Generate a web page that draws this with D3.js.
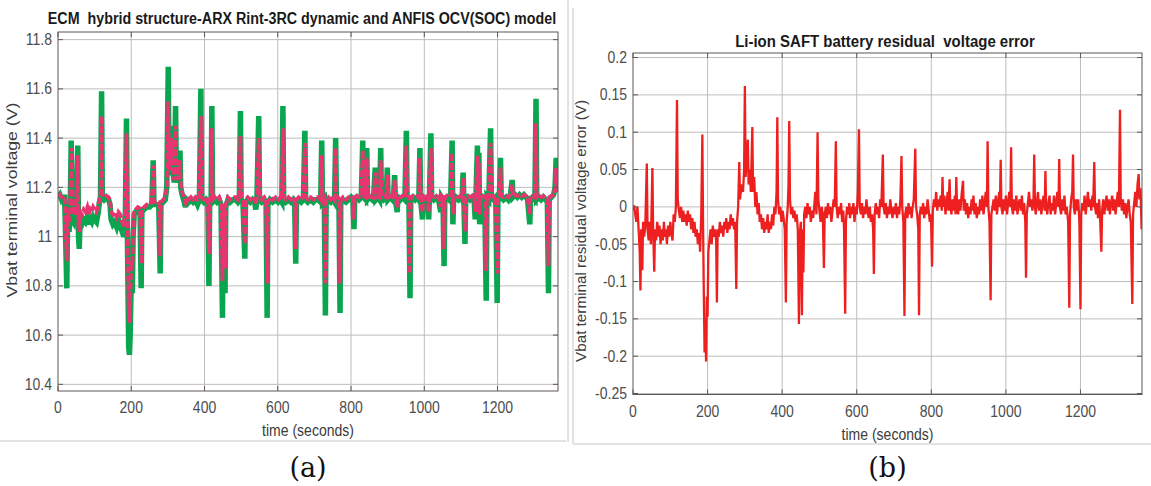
<!DOCTYPE html>
<html lang="en">
<head>
<meta charset="UTF-8">
<title>ECM hybrid model and residual voltage error</title>
<script src="https://d3js.org/d3.v7.min.js"></script>
<style>
  body { margin: 0; background: #fff; }
  svg { display: block; font-family: "Liberation Sans", Arial, sans-serif; }
  .tick-label { fill: #4d4d4d; font-size: 14px; }
  .axis-label { fill: #3c3c3c; font-size: 14px; }
  .title { fill: #1a1a1a; font-weight: bold; white-space: pre; }
  .grid { stroke: #bdbdbd; stroke-width: 1; }
  .box { fill: none; stroke: #5f5757; stroke-width: 1; }
  .tick { stroke: #5f5757; stroke-width: 1; }
  .caption { font-family: "DejaVu Serif", serif; font-size: 27px; fill: #111; }
  .frame { stroke: #e2e2e2; stroke-width: 2; }
</style>
</head>
<body>
<svg id="fig" width="1151" height="486"></svg>
<script>
// ---- data ----
const xTicks = [0, 200, 400, 600, 800, 1000, 1200];
const yTicksA = [10.4, 10.6, 10.8, 11, 11.2, 11.4, 11.6, 11.8];
const yTicksB = [-0.25, -0.2, -0.15, -0.1, -0.05, 0, 0.05, 0.1, 0.15, 0.2];

const titleA = "ECM  hybrid structure-ARX Rint-3RC dynamic and ANFIS OCV(SOC) model";
const titleB = "Li-ion SAFT battery residual  voltage error";
const yLabelA = "Vbat terminal voltage (V)";
const yLabelB = "Vbat terminal residual voltage error (V)";
const xLabel = "time (seconds)";

// [time s, measured V (green), model V (pink dashed)]
const ecmRows = [
  [0,11.16,11.165],[5,11.17,11.17],[10,11.15,11.16],[15,11.16,11.165],[18,11.16,11.16],
  [20,11.05,11.08],[24,10.79,10.90],[26,11.05,11.09],[30,11.02,11.06],[33,11.08,11.11],
  [36,11.39,11.36],[38,11.07,11.10],[42,11.06,11.10],[45,11.10,11.12],[48,11.06,11.09],
  [54,11.37,11.33],[56,11.00,11.05],[58,10.95,11.02],[60,11.06,11.10],[65,11.05,11.09],
  [70,11.07,11.11],[75,11.06,11.10],[80,11.08,11.12],[84,11.05,11.09],[88,11.07,11.11],
  [92,11.06,11.10],[96,11.08,11.12],[100,11.07,11.11],[105,11.06,11.10],[110,11.10,11.13],
  [113,11.14,11.15],[116,11.16,11.16],[119,11.59,11.49],[121,11.16,11.17],[126,11.15,11.16],
  [132,11.16,11.165],[138,11.15,11.16],[142,11.13,11.15],[145,11.07,11.10],[150,11.05,11.09],
  [155,11.06,11.10],[160,11.04,11.08],[165,11.07,11.10],[170,11.05,11.09],[175,11.02,11.06],
  [180,11.00,11.04],[184,11.10,11.12],[187,11.48,11.42],[189,11.05,11.08],[191,10.80,10.90],
  [193,10.55,10.70],[195,10.52,10.65],[197,10.60,10.75],[199,10.75,10.86],[201,10.85,10.90],
  [203,10.77,10.88],[205,11.00,11.04],[208,11.09,11.10],[212,11.10,11.11],[218,11.11,11.12],
  [224,11.10,11.115],[227,10.79,10.89],[229,11.10,11.11],[235,11.11,11.12],[242,11.12,11.13],
  [250,11.12,11.13],[256,11.13,11.14],[260,11.31,11.29],[262,11.13,11.14],[268,11.13,11.14],
  [275,11.13,11.14],[279,10.85,10.92],[281,11.13,11.14],[287,11.14,11.15],[293,11.15,11.16],
  [297,11.20,11.20],[301,11.69,11.55],[303,11.25,11.27],[307,11.30,11.30],[311,11.45,11.40],
  [313,11.28,11.28],[317,11.22,11.23],[321,11.53,11.45],[323,11.25,11.26],[327,11.22,11.23],
  [333,11.35,11.31],[335,11.20,11.21],[339,11.17,11.18],[343,11.15,11.16],[348,11.12,11.14],
  [351,11.15,11.16],[357,11.14,11.15],[363,11.15,11.16],[369,11.14,11.15],[375,11.15,11.16],
  [381,11.13,11.15],[386,11.15,11.16],[390,11.60,11.49],[392,11.15,11.16],[398,11.14,11.15],
  [404,11.15,11.16],[409,11.14,11.15],[412,10.80,10.93],[414,11.13,11.14],[418,11.15,11.16],
  [420,11.53,11.44],[422,11.14,11.15],[428,11.15,11.16],[434,11.14,11.15],[440,11.15,11.16],
  [445,11.13,11.14],[449,10.67,10.82],[451,11.12,11.13],[454,11.05,11.08],[456,10.77,10.87],
  [458,11.12,11.13],[464,11.15,11.16],[470,11.14,11.15],[477,11.15,11.16],[485,11.15,11.16],
  [491,11.14,11.15],[495,11.15,11.16],[498,11.51,11.41],[500,11.15,11.16],[505,11.14,11.15],
  [510,10.91,10.97],[512,11.14,11.15],[518,11.15,11.16],[525,11.14,11.15],[531,11.15,11.16],
  [537,11.14,11.15],[540,11.11,11.13],[543,11.15,11.16],[548,11.49,11.40],[550,11.15,11.16],
  [556,11.14,11.15],[563,11.15,11.16],[568,11.14,11.15],[571,10.67,10.81],[573,11.13,11.14],
  [579,11.15,11.16],[586,11.14,11.15],[594,11.15,11.16],[601,11.14,11.15],[607,11.15,11.16],
  [611,11.14,11.15],[614,11.53,11.44],[616,11.15,11.16],[622,11.14,11.15],[629,11.15,11.16],
  [636,11.14,11.15],[642,11.15,11.16],[646,11.14,11.15],[649,10.89,10.95],[651,11.14,11.15],
  [657,11.15,11.16],[664,11.14,11.15],[670,11.15,11.16],[674,11.43,11.38],[676,11.15,11.16],
  [682,11.14,11.15],[690,11.15,11.16],[697,11.14,11.15],[703,11.15,11.16],[710,11.15,11.16],
  [717,11.14,11.15],[720,11.39,11.33],[722,11.14,11.15],[727,11.15,11.16],[730,10.68,10.81],
  [732,11.14,11.15],[738,11.15,11.16],[745,11.14,11.15],[751,11.15,11.16],[755,11.14,11.15],
  [758,11.40,11.36],[760,11.15,11.16],[764,11.15,11.16],[767,11.14,11.15],[770,10.69,10.81],
  [772,11.14,11.15],[778,11.15,11.16],[786,11.14,11.15],[793,11.15,11.16],[800,11.16,11.165],
  [805,11.15,11.16],[808,11.03,11.07],[810,11.15,11.16],[816,11.16,11.165],[822,11.15,11.16],
  [828,11.16,11.165],[832,11.39,11.35],[834,11.16,11.165],[840,11.15,11.16],[843,11.36,11.32],
  [845,11.15,11.16],[851,11.16,11.165],[858,11.15,11.16],[862,11.17,11.17],[866,11.28,11.26],
  [868,11.15,11.16],[874,11.16,11.165],[878,11.15,11.16],[881,11.36,11.31],[883,11.16,11.165],
  [889,11.15,11.16],[896,11.16,11.165],[899,11.28,11.25],[901,11.15,11.16],[907,11.16,11.165],
  [913,11.15,11.16],[916,11.16,11.165],[919,11.25,11.23],[921,11.15,11.16],[926,11.10,11.12],
  [928,11.16,11.165],[935,11.15,11.16],[941,11.16,11.165],[947,11.15,11.16],[951,11.43,11.37],
  [953,11.16,11.165],[958,11.15,11.16],[961,10.75,10.85],[963,11.15,11.16],[969,11.16,11.165],
  [975,11.15,11.16],[981,11.16,11.165],[985,11.15,11.16],[988,11.36,11.32],[990,11.15,11.16],
  [995,11.07,11.10],[997,11.16,11.165],[1003,11.15,11.16],[1009,11.16,11.165],[1012,11.07,11.10],
  [1014,11.16,11.165],[1018,11.42,11.36],[1020,11.16,11.165],[1026,11.15,11.16],[1033,11.16,11.165],
  [1039,11.15,11.16],[1045,11.10,11.12],[1047,11.16,11.165],[1051,11.15,11.16],[1054,10.88,10.95],
  [1056,11.15,11.16],[1062,11.16,11.165],[1068,11.15,11.16],[1072,11.16,11.165],[1076,11.39,11.34],
  [1078,11.05,11.09],[1080,11.15,11.16],[1086,11.16,11.165],[1093,11.15,11.16],[1099,11.16,11.165],
  [1103,11.15,11.16],[1106,11.26,11.24],[1108,11.15,11.16],[1111,10.97,11.02],[1113,11.15,11.16],
  [1119,11.16,11.165],[1125,11.15,11.16],[1131,11.16,11.165],[1136,11.15,11.16],[1139,11.07,11.10],
  [1141,11.16,11.165],[1145,11.37,11.33],[1147,11.15,11.16],[1149,11.34,11.30],[1151,11.05,11.09],
  [1153,11.15,11.16],[1159,11.16,11.165],[1165,11.15,11.16],[1169,10.74,10.86],[1171,11.16,11.165],
  [1176,11.15,11.16],[1181,11.44,11.38],[1183,11.16,11.165],[1189,11.15,11.16],[1195,11.16,11.165],
  [1199,10.73,10.85],[1201,11.15,11.16],[1205,11.16,11.165],[1208,11.32,11.28],[1210,11.16,11.165],
  [1216,11.15,11.16],[1223,11.16,11.165],[1229,11.15,11.16],[1235,11.17,11.17],[1240,11.23,11.21],
  [1242,11.16,11.165],[1248,11.17,11.17],[1254,11.16,11.165],[1260,11.17,11.17],[1266,11.16,11.165],
  [1272,11.17,11.17],[1278,11.16,11.165],[1282,11.15,11.16],[1288,11.05,11.09],[1290,11.15,11.16],
  [1296,11.16,11.165],[1302,11.15,11.16],[1305,11.56,11.46],[1307,11.15,11.16],[1313,11.16,11.165],
  [1319,11.15,11.16],[1325,11.16,11.165],[1331,11.15,11.16],[1336,11.14,11.15],[1339,10.77,10.88],
  [1341,11.15,11.16],[1347,11.16,11.165],[1353,11.17,11.17],[1357,11.20,11.20],[1360,11.32,11.28],
  [1362,11.18,11.18],[1364,11.28,11.26],[1366,11.19,11.19]
];

// [time s, residual V]
const residualPts = [
  [0,-0.005],[3,0.002],[6,-0.01],[9,-0.02],[12,0.0],[15,-0.03],[18,-0.06],[20,-0.112],[22,-0.03],
  [25,-0.085],[27,-0.02],[30,-0.04],[33,-0.025],[37,0.058],[39,-0.03],[42,-0.045],[45,-0.02],
  [48,-0.05],[52,0.052],[54,-0.03],[57,-0.087],[59,-0.03],[62,-0.045],[65,-0.02],[68,-0.04],
  [71,-0.025],[74,-0.05],[77,-0.03],[80,-0.045],[83,-0.02],[85,-0.04],[88,-0.03],[91,-0.05],
  [94,-0.025],[97,-0.04],[100,-0.02],[103,-0.035],[106,-0.045],[109,-0.01],[112,-0.02],[115,0.0],
  [118,0.143],[120,0.01],[123,-0.005],[126,-0.015],[129,0.0],[132,-0.02],[135,-0.005],[138,-0.02],
  [141,-0.01],[144,-0.025],[147,-0.005],[150,-0.02],[153,-0.01],[156,-0.03],[159,-0.015],
  [162,-0.035],[165,-0.02],[168,-0.04],[171,-0.03],[174,-0.05],[177,-0.035],[180,-0.06],
  [183,-0.01],[186,0.097],[188,-0.03],[190,-0.12],[192,-0.195],[194,-0.15],[196,-0.207],
  [198,-0.12],[200,-0.147],[202,-0.06],[205,-0.045],[208,-0.03],[211,-0.05],[214,-0.025],
  [217,-0.04],[220,-0.03],[223,-0.045],[225,-0.128],[227,-0.03],[230,-0.04],[233,-0.02],
  [236,-0.035],[239,-0.025],[242,-0.04],[245,-0.02],[248,-0.03],[250,-0.015],[253,-0.035],
  [256,-0.02],[259,-0.03],[262,-0.01],[265,-0.025],[268,-0.015],[271,-0.03],[274,-0.02],
  [277,-0.11],[279,-0.02],[282,0.0],[285,0.06],[287,0.01],[291,0.03],[295,0.02],[298,0.05],
  [300,0.162],[302,0.04],[305,0.06],[308,0.09],[310,0.03],[313,0.05],[316,0.02],[320,0.107],
  [322,0.02],[325,0.04],[328,0.0],[331,0.02],[334,-0.01],[337,0.005],[340,-0.02],[343,-0.01],
  [346,-0.03],[349,-0.015],[352,-0.035],[355,-0.02],[358,-0.03],[361,-0.01],[364,-0.035],
  [367,-0.02],[370,-0.03],[373,-0.01],[376,-0.025],[379,0.0],[382,-0.01],[385,0.02],[387,0.12],
  [389,0.01],[392,-0.01],[395,0.0],[398,-0.02],[401,-0.005],[404,-0.015],[407,-0.03],[410,-0.128],
  [412,-0.02],[415,0.0],[417,0.03],[419,0.115],[421,0.01],[424,-0.01],[427,0.0],[430,-0.015],
  [433,-0.005],[436,-0.02],[439,-0.01],[442,-0.03],[445,-0.157],[447,-0.04],[450,-0.02],
  [453,-0.145],[455,-0.03],[457,-0.088],[459,-0.01],[462,0.0],[465,-0.015],[468,0.005],
  [471,-0.01],[474,0.0],[477,-0.02],[480,-0.005],[483,-0.015],[486,0.0],[489,0.02],[492,-0.01],
  [495,0.1],[497,0.01],[500,-0.005],[503,-0.02],[506,0.0],[509,-0.01],[512,-0.082],[514,-0.01],
  [517,0.0],[520,-0.015],[523,0.005],[526,-0.01],[529,0.0],[532,-0.02],[535,-0.005],[538,0.01],
  [541,0.0],[544,0.088],[546,0.0],[549,-0.015],[552,0.0],[555,-0.01],[558,0.005],[561,-0.02],
  [564,-0.005],[566,-0.03],[569,-0.143],[571,-0.02],[574,0.0],[577,-0.01],[580,0.005],
  [582,-0.015],[585,0.0],[588,-0.01],[591,0.005],[594,-0.02],[597,0.0],[600,-0.01],[603,0.02],
  [606,0.104],[608,0.0],[611,-0.01],[614,0.005],[617,-0.015],[620,0.0],[623,-0.01],[626,0.01],
  [629,-0.005],[632,-0.015],[635,0.0],[638,-0.02],[641,-0.01],[644,-0.03],[646,-0.09],[648,-0.01],
  [651,0.005],[654,-0.01],[657,0.0],[660,-0.015],[663,0.01],[666,0.0],[670,0.07],[672,0.0],
  [675,-0.01],[678,0.005],[681,-0.015],[684,0.0],[687,-0.01],[690,0.01],[693,-0.005],[696,-0.015],
  [699,0.0],[702,-0.01],[705,0.005],[708,-0.015],[711,0.0],[714,-0.01],[717,0.01],[720,0.068],
  [722,0.0],[725,-0.02],[728,-0.146],[730,-0.01],[733,0.0],[736,-0.015],[739,0.005],[742,-0.01],
  [745,0.0],[747,-0.015],[750,0.0],[753,0.01],[757,0.078],[759,0.0],[762,-0.01],[765,-0.03],
  [767,-0.145],[769,-0.01],[772,0.0],[775,-0.01],[778,0.005],[781,-0.015],[784,0.0],[787,-0.01],
  [790,0.01],[793,-0.005],[796,-0.02],[799,-0.01],[802,-0.08],[804,-0.005],[807,0.01],[810,0.0],
  [813,0.02],[816,-0.005],[819,0.01],[822,0.0],[825,0.015],[828,-0.005],[830,0.04],[832,0.0],
  [835,0.015],[838,-0.01],[841,0.005],[844,0.02],[846,-0.005],[849,0.037],[851,0.0],[854,-0.01],
  [857,0.01],[860,-0.005],[863,0.015],[865,-0.01],[867,0.04],[869,0.0],[872,-0.01],[875,0.01],
  [878,-0.005],[881,0.015],[885,0.035],[887,-0.005],[890,0.01],[893,-0.01],[896,0.005],
  [899,-0.015],[902,0.0],[905,-0.01],[908,0.01],[911,-0.005],[913,0.015],[916,-0.01],[919,0.005],
  [922,-0.015],[925,0.0],[928,-0.01],[931,0.01],[934,-0.005],[937,0.015],[940,-0.01],[943,0.005],
  [946,0.02],[949,0.0],[951,0.088],[953,0.0],[956,-0.02],[959,-0.125],[961,-0.01],[964,0.0],
  [967,0.01],[970,-0.005],[973,0.015],[976,-0.01],[979,0.005],[982,0.02],[984,0.0],[986,0.063],
  [988,0.0],[991,-0.01],[994,0.01],[997,-0.005],[1000,0.015],[1003,-0.01],[1006,0.005],
  [1009,0.02],[1012,0.0],[1014,0.08],[1016,0.0],[1019,-0.01],[1022,0.01],[1025,-0.005],
  [1028,0.015],[1031,-0.01],[1034,0.005],[1037,0.01],[1040,-0.005],[1043,0.015],[1046,-0.01],
  [1049,0.005],[1052,-0.02],[1054,-0.095],[1056,-0.01],[1059,0.005],[1062,0.02],[1065,0.0],
  [1068,0.01],[1071,-0.005],[1074,0.01],[1076,0.07],[1078,0.0],[1080,-0.01],[1083,0.005],
  [1086,0.02],[1089,-0.005],[1092,0.01],[1095,-0.01],[1098,0.005],[1101,0.015],[1104,-0.005],
  [1106,0.048],[1108,0.0],[1111,-0.01],[1114,0.005],[1117,0.015],[1120,-0.01],[1123,0.005],
  [1126,-0.005],[1129,0.015],[1132,-0.01],[1135,0.005],[1138,0.02],[1141,0.0],[1143,0.064],
  [1145,0.0],[1148,-0.01],[1151,0.01],[1154,-0.005],[1157,0.015],[1160,-0.01],[1163,0.0],
  [1167,-0.02],[1170,-0.135],[1172,-0.01],[1175,0.01],[1178,0.02],[1180,0.07],[1182,0.0],
  [1185,-0.01],[1188,0.01],[1191,-0.005],[1194,0.01],[1197,-0.02],[1200,-0.137],[1202,-0.01],
  [1205,0.005],[1208,-0.005],[1211,0.015],[1214,-0.01],[1217,0.005],[1220,0.02],[1223,0.0],
  [1226,0.01],[1229,-0.005],[1232,0.015],[1234,0.0],[1237,0.06],[1239,0.0],[1242,-0.01],
  [1245,0.005],[1247,-0.015],[1250,0.01],[1253,-0.02],[1256,-0.06],[1258,-0.005],[1261,0.01],
  [1264,-0.01],[1267,0.005],[1270,0.015],[1273,-0.005],[1276,0.01],[1279,-0.01],[1282,0.005],
  [1285,0.015],[1288,-0.005],[1291,0.01],[1294,-0.01],[1297,0.005],[1300,0.02],[1303,0.0],
  [1306,0.13],[1308,0.01],[1311,-0.005],[1314,0.01],[1317,-0.01],[1320,0.005],[1323,-0.015],
  [1326,0.0],[1329,0.01],[1332,-0.01],[1335,-0.02],[1339,-0.13],[1341,-0.01],[1344,0.005],
  [1347,0.02],[1350,0.0],[1353,0.03],[1356,0.044],[1358,0.01],[1361,0.025],[1364,-0.03]
];

const svg = d3.select("#fig");
const STRETCH = 1.12; // the source figure is a little taller than wide, text looks stretched

// light frames around the two sub-figures
svg.append("line").attr("class", "frame").attr("x1", 0).attr("x2", 566).attr("y1", 441).attr("y2", 441);
svg.append("line").attr("class", "frame").attr("x1", 568).attr("x2", 568).attr("y1", 0).attr("y2", 442);
svg.append("line").attr("class", "frame").attr("x1", 573).attr("x2", 573).attr("y1", 8).attr("y2", 444);
svg.append("line").attr("class", "frame").attr("x1", 573).attr("x2", 1151).attr("y1", 444).attr("y2", 444);

function drawPanel(o) {
  const x = d3.scaleLinear().domain([0, 1365]).range([o.left, o.right]);
  const y = d3.scaleLinear().domain(o.yDomain).range([o.bottom, o.top]);
  const g = svg.append("g");

  // grid
  g.selectAll(null).data(xTicks.filter(d => d > 0)).join("line").attr("class", "grid")
    .attr("x1", d => x(d)).attr("x2", d => x(d)).attr("y1", o.top).attr("y2", o.bottom);
  g.selectAll(null).data(o.yTicks).join("line").attr("class", "grid")
    .attr("x1", o.left).attr("x2", o.right).attr("y1", d => y(d)).attr("y2", d => y(d));

  // data lines
  g.append("clipPath").attr("id", o.id + "-clip").append("rect")
    .attr("x", o.left).attr("y", o.top).attr("width", o.right - o.left).attr("height", o.bottom - o.top);
  const plot = g.append("g").attr("clip-path", `url(#${o.id}-clip)`);
  o.series.forEach(s => {
    plot.append("path").datum(s.data)
      .attr("fill", "none").attr("stroke", s.color).attr("stroke-width", s.width)
      .attr("stroke-dasharray", s.dash || null).attr("stroke-linejoin", "miter")
      .attr("d", d3.line().x(d => x(d[0])).y(d => y(d[s.col])));
  });

  // inward ticks on all four sides
  xTicks.forEach(d => {
    g.append("line").attr("class", "tick").attr("x1", x(d)).attr("x2", x(d)).attr("y1", o.bottom).attr("y2", o.bottom - 5);
    g.append("line").attr("class", "tick").attr("x1", x(d)).attr("x2", x(d)).attr("y1", o.top).attr("y2", o.top + 5);
  });
  o.yTicks.forEach(d => {
    g.append("line").attr("class", "tick").attr("x1", o.left).attr("x2", o.left + 5).attr("y1", y(d)).attr("y2", y(d));
    g.append("line").attr("class", "tick").attr("x1", o.right).attr("x2", o.right - 5).attr("y1", y(d)).attr("y2", y(d));
  });
  g.append("rect").attr("class", "box")
    .attr("x", o.left).attr("y", o.top).attr("width", o.right - o.left).attr("height", o.bottom - o.top);

  // tick labels (slightly stretched vertically like the source)
  g.selectAll(null).data(xTicks).join("text").attr("class", "tick-label")
    .attr("transform", d => `translate(${x(d)},${o.bottom + 22}) scale(1,${STRETCH})`)
    .attr("text-anchor", "middle").text(d => String(d));
  g.selectAll(null).data(o.yTicks).join("text").attr("class", "tick-label")
    .attr("transform", d => `translate(${o.left - 6},${y(d) + 5.5}) scale(1,${STRETCH})`)
    .attr("text-anchor", "end").text(d => String(d));

  // labels and title
  const cx = (o.left + o.right) / 2;
  g.append("text").attr("class", "axis-label")
    .attr("transform", `translate(${cx},${o.bottom + 45}) scale(1,${STRETCH})`)
    .attr("text-anchor", "middle").text(xLabel);
  g.append("text").attr("class", "axis-label").attr("text-anchor", "middle")
    .attr("transform", `translate(${o.yLabelX},${o.yLabelY}) rotate(-90)`)
    .attr("textLength", o.yLabelLen).attr("lengthAdjust", "spacingAndGlyphs").text(o.yLabel);
  g.append("text").attr("class", "title")
    .attr("transform", `translate(${o.titleX},${o.titleY}) scale(1,${STRETCH})`)
    .attr("text-anchor", "middle").style("font-size", o.titleSize + "px").text(o.title);
  svg.append("text").attr("class", "caption").attr("x", cx).attr("y", 477)
    .attr("text-anchor", "middle").text(o.caption);
}

drawPanel({
  id: "a", left: 58, right: 558, top: 32, bottom: 391,
  yDomain: [10.373, 11.831], yTicks: yTicksA,
  title: titleA, titleX: 302, titleY: 24, titleSize: 14.3,
  yLabel: yLabelA, yLabelX: 17, yLabelY: 200, yLabelLen: 195, caption: "(a)",
  series: [
    { data: ecmRows, col: 1, color: "#09a54f", width: 5.5 },
    { data: ecmRows, col: 2, color: "#e83470", width: 3.8, dash: "7,2" }
  ]
});

drawPanel({
  id: "b", left: 633, right: 1142, top: 53, bottom: 394.5,
  yDomain: [-0.2513, 0.2061], yTicks: yTicksB,
  title: titleB, titleX: 885, titleY: 47, titleSize: 15,
  yLabel: yLabelB, yLabelX: 586, yLabelY: 231, yLabelLen: 262, caption: "(b)",
  series: [
    { data: residualPts, col: 1, color: "#ee1f1f", width: 2.3 }
  ]
});
</script>
</body>
</html>
